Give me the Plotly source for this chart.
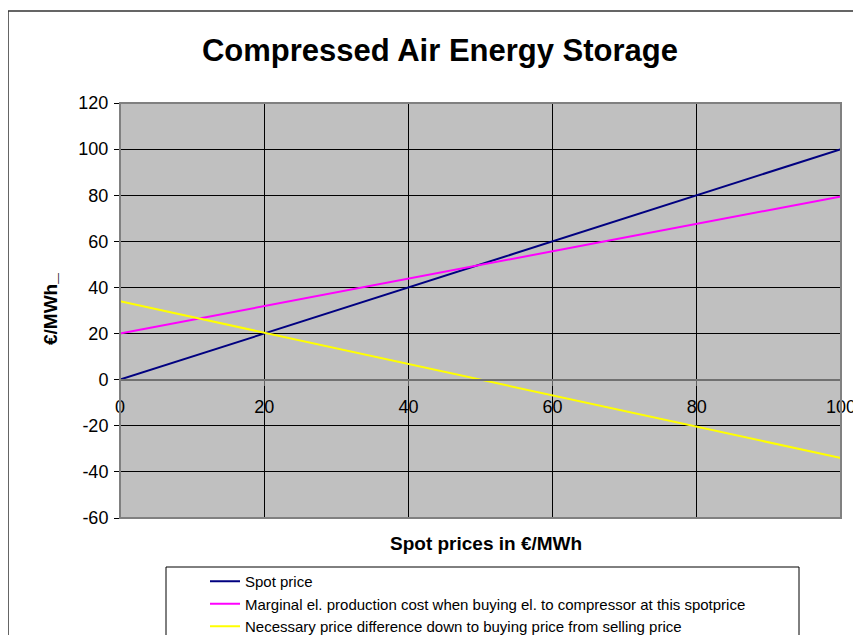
import plotly.graph_objects as go

# spot price in EUR/MWh (x axis)
spot = [0, 20, 40, 60, 80, 100]

# values
spot_price = [0, 20, 40, 60, 80, 100]
marginal_cost = [20, 31.9, 43.8, 55.7, 67.6, 79.5]
price_difference = [34, 20.4, 6.8, -6.8, -20.4, -34]

series_names = [
    "Spot price",
    "Marginal el. production cost when buying el. to compressor at this spotprice",
    "Necessary price difference down to buying price from selling price",
]
series_colors = ["#000080", "#FF00FF", "#FFFF00"]

x_ticks = [0, 20, 40, 60, 80, 100]
y_ticks = [-60, -40, -20, 0, 20, 40, 60, 80, 100, 120]
y_tick_labels = ["-60", "-40", "-20", "0", "20", "40", "60", "80", "100", "120"]

FONT = "Arial, Liberation Sans, sans-serif"

# the page body adds an 8px offset, so the figure is a bit smaller
OFF = 8
W, H = 861 - OFF, 635 - OFF
# plot area (page pixels): left 120, right 841, top 103, bottom 518
L, R, T, B = 120 - OFF, 861 - 841, 103 - OFF, 635 - 518
pw, ph = W - L - R, H - T - B


def px(x):
    # page pixel -> paper fraction
    return (x - OFF - L) / pw


def py(y):
    return (H - B - (y - OFF)) / ph


fig = go.Figure()
for ys, name, color in zip([spot_price, marginal_cost, price_difference],
                           series_names, series_colors):
    fig.add_trace(go.Scatter(
        x=spot, y=ys, mode="lines", name=name,
        line=dict(color=color, width=2),
        legendgroup=name,
    ))

# outer chart border
fig.add_shape(type="rect", xref="paper", yref="paper",
              x0=px(8), y0=py(660), x1=px(880), y1=py(11),
              line=dict(color="#333333", width=1.5), layer="below")
# legend box
fig.add_shape(type="rect", xref="paper", yref="paper",
              x0=px(166), y0=py(660), x1=px(799), y1=py(567),
              line=dict(color="black", width=1), layer="below")
# plot area border
fig.add_shape(type="rect", xref="paper", yref="paper",
              x0=0, y0=0, x1=1, y1=1,
              line=dict(color="#808080", width=2), layer="above")

fig.update_layout(
    width=W, height=H,
    margin=dict(l=L, r=R, t=T, b=B, autoexpand=False),
    paper_bgcolor="white",
    plot_bgcolor="#C0C0C0",
    font=dict(family=FONT, color="black"),
    title=dict(
        text="Compressed Air Energy Storage",
        font=dict(family=FONT, size=31, weight="bold"),
        x=px(440), xref="paper", xanchor="center",
        y=1 - (50 - OFF) / H, yanchor="middle",
    ),
    showlegend=True,
    legend=dict(
        xref="container", yref="container",
        x=(205 - OFF) / W, y=1 - (565 - OFF) / H, xanchor="left", yanchor="top",
        font=dict(family=FONT, size=15),
        bgcolor="rgba(0,0,0,0)",
        traceorder="grouped",
        tracegroupgap=0,
        itemwidth=30,
    ),
    xaxis=dict(
        range=[0, 100],
        tickvals=x_ticks,
        ticks="outside", ticklen=5, tickcolor="#606060",
        tickfont=dict(family=FONT, size=18),
        ticklabelstandoff=6,
        showline=True, linecolor="#707070", linewidth=2,
        showgrid=True, gridcolor="black", gridwidth=1,
        zeroline=False,
        anchor="free", position=1 / 3,
        automargin=False,
        fixedrange=True,
    ),
    yaxis=dict(
        range=[-60, 120],
        tickvals=y_ticks, ticktext=y_tick_labels,
        ticks="outside", ticklen=5, tickcolor="black",
        tickfont=dict(family=FONT, size=18),
        ticklabelstandoff=2,
        showline=True, linecolor="black", linewidth=1,
        showgrid=True, gridcolor="black", gridwidth=1,
        zeroline=False,
        automargin=False,
        fixedrange=True,
    ),
)

# axis titles
fig.add_annotation(
    text="Spot prices in €/MWh", xref="paper", yref="paper",
    x=px(486), y=py(543), xanchor="center", yanchor="middle",
    showarrow=False, font=dict(family=FONT, size=19, weight="bold"),
)
fig.add_annotation(
    text="€/MWh_", xref="paper", yref="paper",
    x=px(50), y=py(309), xanchor="center", yanchor="middle",
    textangle=-90,
    showarrow=False, font=dict(family=FONT, size=19, weight="bold"),
)

fig.write_html("out.html")
